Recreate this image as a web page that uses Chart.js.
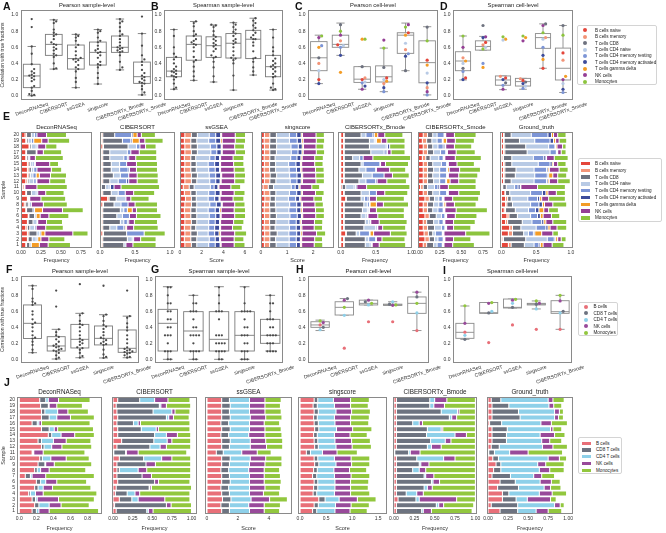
<!DOCTYPE html>
<html><head><meta charset="utf-8">
<script src="https://cdn.jsdelivr.net/npm/chart.js@4.4.0/dist/chart.umd.min.js"></script>
<style>
body{margin:0;width:666px;height:533px;position:relative;background:#fff;overflow:hidden;font-family:"Liberation Sans",Arial,sans-serif}
.c{position:absolute}
.lab{position:absolute;font-weight:bold;font-size:10.5px;color:#111;line-height:10px}
.leg{position:absolute;border:1px solid #d4d4d4;border-radius:2px;background:#fff;box-sizing:border-box}
.leg .t{position:absolute;font-size:4.6px;line-height:5px;white-space:nowrap;color:#222}
.leg .m{position:absolute}
</style></head><body>
<script>
// ---------------- DATA ----------------
const methods6 = ['DeconRNASeq','CIBERSORT','ssGSEA','singscore','CIBERSORTx_Bmode','CIBERSORTx_Smode'];
const methods5 = ['DeconRNASeq','CIBERSORT','ssGSEA','singscore','CIBERSORTx_Bmode'];
const methodsE = ['DeconRNASeq','CIBERSORT','ssGSEA','singscore','CIBERSORTx_Bmode','CIBERSORTx_Smode','Ground_truth'];
const methodsJ = ['DeconRNASeq','CIBERSORT','ssGSEA','singscore','CIBERSORTx_Bmode','Ground_truth'];
const types9 = ['B cells naive','B cells memory','T cells CD8','T cells CD4 naive','T cells CD4 memory resting','T cells CD4 memory activated','T cells gamma delta','NK cells','Monocytes'];
const colors9 = ['#e4463b','#f29478','#6e727f','#b8cae5','#7d95d6','#3d4c9c','#f39c26','#953f95','#8cc43e'];
const types5 = ['B cells','CD8 T cells','CD4 T cells','NK cells','Monocytes'];
const colors5 = ['#e86f78','#6d7380','#8ed0e9','#984a9a','#92c73e'];
const corrTicks = [0,0.2,0.4,0.6,0.8,1.0];

// A: Pearson sample-level (9 cell types)
const A_pts = [
 [0.95,0.85,0.61,0.52,0.39,0.33,0.30,0.28,0.26,0.25,0.24,0.22,0.20,0.18,0.12,0.10,0.06,0.02,0.01,0.0],
 [0.94,0.92,0.90,0.82,0.78,0.76,0.74,0.70,0.66,0.64,0.63,0.60,0.58,0.56,0.52,0.50,0.48,0.40,0.34,0.33],
 [0.76,0.74,0.72,0.68,0.63,0.60,0.55,0.50,0.47,0.46,0.45,0.44,0.42,0.38,0.35,0.33,0.30,0.22,0.17,0.10],
 [0.82,0.80,0.78,0.72,0.68,0.66,0.62,0.58,0.56,0.54,0.53,0.50,0.47,0.42,0.39,0.38,0.35,0.28,0.22,0.145],
 [0.95,0.92,0.90,0.85,0.80,0.76,0.74,0.70,0.66,0.62,0.60,0.59,0.58,0.56,0.55,0.54,0.50,0.42,0.35,0.32],
 [0.98,0.77,0.62,0.50,0.45,0.42,0.38,0.32,0.28,0.25,0.23,0.21,0.19,0.17,0.16,0.15,0.12,0.08,0.04,0.01]];
const A_q1 = [0.10,0.50,0.33,0.38,0.537,0.153];
const A_med = [0.245,0.636,0.46,0.537,0.60,0.236];
const A_q3 = [0.39,0.76,0.628,0.665,0.74,0.417];
const A_lo = [0.0,0.33,0.10,0.145,0.32,0.01];
const A_hi = [0.61,0.94,0.76,0.82,0.95,0.77];

// B: Spearman sample-level
const B_pts = [
 [0.82,0.74,0.60,0.52,0.48,0.45,0.40,0.36,0.33,0.31,0.30,0.29,0.27,0.25,0.24,0.23,0.20,0.15,0.10,0.08],
 [0.92,0.90,0.86,0.80,0.76,0.74,0.70,0.68,0.66,0.64,0.63,0.60,0.55,0.48,0.44,0.42,0.36,0.30,0.24,0.19],
 [0.88,0.87,0.85,0.80,0.75,0.73,0.70,0.68,0.65,0.63,0.61,0.58,0.55,0.50,0.48,0.47,0.42,0.35,0.24,0.17],
 [0.905,0.88,0.85,0.82,0.79,0.77,0.74,0.70,0.68,0.66,0.64,0.60,0.55,0.50,0.47,0.46,0.44,0.40,0.25,0.07],
 [0.96,0.93,0.90,0.87,0.84,0.81,0.78,0.75,0.72,0.70,0.70,0.66,0.62,0.55,0.47,0.46,0.42,0.35,0.30,0.256],
 [0.82,0.72,0.60,0.55,0.50,0.46,0.43,0.40,0.38,0.36,0.35,0.33,0.30,0.27,0.24,0.23,0.15,0.10,0.08,0.07]];
const B_q1 = [0.235,0.44,0.475,0.467,0.46,0.235];
const B_med = [0.305,0.636,0.62,0.65,0.70,0.36];
const B_q3 = [0.475,0.74,0.73,0.77,0.81,0.50];
const B_lo = [0.08,0.19,0.17,0.07,0.256,0.07];
const B_hi = [0.82,0.92,0.876,0.905,0.96,0.82];

// C: Pearson cell-level, one value per cell type (order of types9)
const C_pts = [
 [0.20,0.40,0.47,0.31,0.62,0.15,0.60,0.72,0.74],
 [0.63,0.68,0.88,0.62,0.60,0.50,0.29,0.75,0.80],
 [0.20,0.22,0.36,0.17,0.16,0.12,0.70,0.08,0.70],
 [0.22,0.15,0.35,0.20,0.05,0.10,0.18,0.69,0.59],
 [0.78,0.57,0.31,0.65,0.52,0.49,0.75,0.88,0.85],
 [0.44,0.10,0.85,0.28,0.01,0.16,0.38,0.05,0.68]];
const C_q1 = [0.31,0.60,0.165,0.17,0.525,0.16];
const C_med = [0.47,0.636,0.205,0.235,0.75,0.41];
const C_q3 = [0.67,0.75,0.36,0.37,0.78,0.68];
const C_lo = [0.15,0.50,0.08,0.05,0.31,0.01];
const C_hi = [0.75,0.90,0.36,0.59,0.90,0.855];

// D: Spearman cell-level
const D_pts = [
 [0.22,0.47,0.34,0.40,0.30,0.20,0.43,0.60,0.74],
 [0.66,0.63,0.87,0.60,0.40,0.72,0.35,0.73,0.58],
 [0.22,0.24,0.16,0.69,0.13,0.20,0.70,0.08,0.73],
 [0.19,0.21,0.17,0.12,0.09,0.15,0.72,0.68,0.74],
 [0.34,0.72,0.89,0.70,0.60,0.50,0.45,0.87,0.78],
 [0.53,0.44,0.87,0.15,0.04,0.08,0.24,0.20,0.75]];
const D_q1 = [0.31,0.565,0.13,0.12,0.587,0.195];
const D_med = [0.43,0.61,0.195,0.175,0.72,0.34];
const D_q3 = [0.545,0.68,0.245,0.215,0.77,0.59];
const D_lo = [0.195,0.565,0.075,0.08,0.34,0.04];
const D_hi = [0.74,0.735,0.245,0.215,0.89,0.87];

// F: Pearson sample-level (5 cell types)
const F_pts = [
 [0.92,0.88,0.76,0.72,0.70,0.68,0.60,0.56,0.50,0.46,0.44,0.40,0.35,0.30,0.27,0.26,0.22,0.18,0.12,0.083],
 [0.86,0.66,0.375,0.34,0.30,0.28,0.25,0.22,0.19,0.17,0.16,0.15,0.13,0.12,0.11,0.10,0.08,0.05,0.02,0.004],
 [0.94,0.575,0.55,0.48,0.44,0.43,0.40,0.35,0.30,0.26,0.24,0.22,0.20,0.18,0.15,0.14,0.12,0.08,0.04,0.02],
 [0.92,0.56,0.54,0.48,0.43,0.41,0.38,0.34,0.30,0.27,0.26,0.24,0.22,0.20,0.19,0.18,0.12,0.06,0.03,0.017],
 [0.86,0.54,0.52,0.45,0.40,0.36,0.30,0.25,0.20,0.15,0.13,0.12,0.11,0.10,0.09,0.08,0.07,0.05,0.03,0.02]];
const F_q1 = [0.26,0.104,0.142,0.18,0.0875];
const F_med = [0.45,0.167,0.25,0.262,0.1375];
const F_q3 = [0.68,0.283,0.437,0.417,0.367];
const F_lo = [0.083,0.004,0.02,0.017,0.02];
const F_hi = [0.92,0.375,0.575,0.558,0.54];

// G: Spearman sample-level (5 cell types)
const G_pts = [
 [0.9,0.9,0.8,0.7,0.7,0.6,0.6,0.5,0.5,0.4,0.4,0.3,0.3,0.3,0.2,0.1,0.1,0.1,0.0,0.0],
 [0.8,0.7,0.7,0.6,0.6,0.6,0.5,0.4,0.4,0.3,0.3,0.3,0.3,0.2,0.1,0.1,0.1,0.1,0.0,0.0],
 [0.9,0.8,0.7,0.6,0.6,0.6,0.5,0.3,0.3,0.3,0.2,0.2,0.2,0.2,0.1,0.1,0.1,0.1,0.0,0.0],
 [0.9,0.7,0.6,0.6,0.6,0.6,0.5,0.4,0.4,0.3,0.3,0.3,0.2,0.2,0.1,0.1,0.1,0.0,0.0,0.0],
 [0.8,0.7,0.7,0.6,0.5,0.5,0.5,0.4,0.4,0.3,0.3,0.3,0.3,0.2,0.2,0.2,0.1,0.1,0.1,0.1]];
const G_q1 = [0.104,0.104,0.104,0.104,0.2];
const G_med = [0.45,0.354,0.25,0.30,0.30];
const G_q3 = [0.625,0.596,0.596,0.596,0.50];
const G_lo = [0.0,0.0,0.0,0.0,0.104];
const G_hi = [0.908,0.80,0.908,0.908,0.80];

// H: Pearson cell-level (order of types5)
const H_pts = [
 [0.43,0.40,0.37,0.46,0.48],
 [0.14,0.76,0.55,0.74,0.65],
 [0.47,0.72,0.68,0.74,0.70],
 [0.47,0.69,0.72,0.675,0.68],
 [0.36,0.78,0.58,0.84,0.70]];
const H_q1 = [0.40,0.554,0.68,0.675,0.575];
const H_med = [0.43,0.65,0.70,0.68,0.70];
const H_q3 = [0.47,0.72,0.74,0.69,0.78];
const H_lo = [0.36,0.554,0.68,0.675,0.36];
const H_hi = [0.49,0.76,0.74,0.72,0.84];

// I: Spearman cell-level
const I_pts = [
 [0.34,0.25,0.30,0.45,0.67],
 [0.21,0.58,0.60,0.70,0.71],
 [0.43,0.65,0.70,0.74,0.75],
 [0.375,0.69,0.63,0.70,0.73],
 [0.375,0.60,0.58,0.73,0.80]];
const I_q1 = [0.2625,0.575,0.642,0.68,0.575];
const I_med = [0.3375,0.583,0.65,0.69,0.596];
const I_q3 = [0.45,0.71,0.754,0.70,0.733];
const I_lo = [0.25,0.575,0.642,0.63,0.375];
const I_hi = [0.667,0.71,0.754,0.73,0.80];

// E: estimated fractions per sample (rows = sample 1..20, columns = types9)
const E_decon = [
 [0.06,0.01,0.04,0.02,0,0,0.10,0.11,0.28],[0.08,0.01,0.05,0.05,0.02,0,0.04,0.10,0.20],
 [0.08,0.02,0.10,0.03,0.02,0,0.05,0.35,0.19],[0.06,0.02,0.03,0.06,0.02,0,0,0.12,0.22],
 [0.08,0.01,0.06,0.05,0,0,0.01,0.11,0.20],[0.09,0.01,0.07,0.02,0,0,0.05,0.11,0.25],
 [0.06,0.01,0.08,0,0.02,0,0.10,0.25,0.26],[0.04,0.02,0.03,0.02,0.02,0,0,0.15,0.30],
 [0.08,0.01,0.01,0.01,0,0,0,0.14,0.31],[0.06,0.01,0.06,0.06,0.02,0,0,0.10,0.23],
 [0.02,0.02,0.01,0,0,0,0,0.15,0.38],[0.06,0.02,0.02,0.06,0.03,0,0.01,0.16,0.20],
 [0.08,0.02,0.02,0.03,0.04,0,0.04,0.14,0.20],[0.08,0.02,0.03,0.03,0.04,0,0,0.18,0.13],
 [0.08,0.02,0.02,0.03,0.02,0,0.01,0.18,0.11],[0.06,0.01,0.02,0.02,0,0,0,0.07,0.35],
 [0.06,0.01,0.12,0.01,0,0,0,0.08,0.23],[0.10,0.01,0.02,0.06,0.02,0,0,0.10,0.14],
 [0.06,0.01,0.02,0.04,0.03,0,0.10,0.08,0.27],[0.05,0.02,0.06,0.04,0.03,0,0,0.12,0.25]];
const E_cibersort = [
 [0.02,0.02,0.30,0.03,0,0,0,0.10,0.33],[0.02,0.02,0.35,0.07,0.02,0,0,0.10,0.22],
 [0.03,0.02,0.33,0,0.25,0,0,0,0.30],[0.02,0.02,0.10,0.10,0.10,0.02,0.02,0.10,0.35],
 [0.02,0.02,0.25,0.05,0.05,0.02,0,0.08,0.33],[0.02,0.02,0.20,0.08,0.10,0,0,0.10,0.35],
 [0.02,0.02,0.25,0.05,0.05,0,0.07,0.06,0.30],[0.03,0.02,0.15,0.10,0.10,0,0,0.10,0.32],
 [0.11,0.02,0.10,0.14,0,0,0,0.07,0.26],[0.02,0.02,0.12,0.10,0.10,0,0,0.12,0.30],
 [0.02,0,0.06,0.05,0.02,0.05,0,0.10,0.55],[0.02,0.02,0.10,0.12,0.12,0.03,0,0.12,0.30],
 [0.02,0.02,0.15,0.10,0.12,0,0,0.12,0.30],[0.02,0.02,0.12,0.12,0.12,0.02,0,0.10,0.30],
 [0.02,0.02,0.12,0.12,0.10,0,0,0.14,0.30],[0.02,0.02,0.10,0.20,0.05,0.02,0,0.10,0.30],
 [0.02,0.02,0.10,0.25,0.05,0,0,0.12,0.25],[0.03,0.02,0.35,0.12,0.05,0,0,0.08,0.15],
 [0.02,0.02,0.28,0,0.12,0.02,0.10,0.08,0.26],[0.02,0.02,0.17,0,0.24,0.02,0.06,0.06,0.20]];
const E_ssgsea = [
 [0.45,0.6,0.5,1.1,0.6,0.45,0.1,1.2,1.0],[0.4,0.6,0.55,1.15,0.55,0.4,0.1,1.25,0.9],
 [0.45,0.55,0.6,1.0,0.6,0.4,0.15,1.3,1.1],[0.4,0.6,0.45,1.2,0.55,0.45,0.1,1.1,0.9],
 [0.45,0.6,0.5,1.1,0.6,0.4,0.1,1.2,0.95],[0.45,0.55,0.55,1.15,0.6,0.4,0.1,1.25,1.0],
 [0.4,0.6,0.5,1.1,0.65,0.4,0.15,1.2,1.05],[0.45,0.6,0.5,1.2,0.6,0.45,0.1,1.15,0.95],
 [0.5,0.55,0.45,1.1,0.6,0.4,0.1,1.2,1.0],[0.4,0.6,0.5,1.15,0.6,0.45,0.1,1.2,1.0],
 [0.3,0.55,0.45,1.5,0.35,0.35,0.1,1.1,0.9],[0.45,0.6,0.5,1.2,0.55,0.4,0.1,1.25,0.95],
 [0.45,0.6,0.55,1.1,0.6,0.45,0.1,1.2,1.0],[0.4,0.6,0.5,1.15,0.6,0.4,0.1,1.25,1.0],
 [0.45,0.55,0.5,1.1,0.6,0.45,0.1,1.2,0.95],[0.4,0.6,0.45,1.3,0.5,0.4,0.1,1.15,1.0],
 [0.45,0.6,0.55,1.25,0.55,0.4,0.1,1.2,0.95],[0.45,0.55,0.6,1.2,0.6,0.4,0.1,1.15,0.9],
 [0.4,0.6,0.55,1.1,0.65,0.45,0.15,1.2,0.95],[0.45,0.6,0.55,1.1,0.6,0.45,0.1,1.25,0.95]];
const E_singscore = [
 [0.13,0.2,0.25,0.5,0.28,0.15,0.05,0.48,0.33],[0.12,0.22,0.22,0.52,0.27,0.16,0.05,0.5,0.3],
 [0.14,0.2,0.28,0.45,0.3,0.15,0.06,0.55,0.35],[0.12,0.22,0.2,0.55,0.26,0.17,0.05,0.47,0.32],
 [0.13,0.2,0.24,0.5,0.28,0.15,0.05,0.5,0.32],[0.13,0.21,0.25,0.52,0.28,0.16,0.05,0.5,0.33],
 [0.12,0.22,0.23,0.5,0.3,0.16,0.06,0.5,0.34],[0.13,0.2,0.22,0.55,0.27,0.17,0.05,0.48,0.32],
 [0.15,0.2,0.2,0.5,0.28,0.15,0.05,0.5,0.33],[0.12,0.22,0.23,0.52,0.28,0.17,0.05,0.5,0.33],
 [0.08,0.2,0.2,0.68,0.15,0.14,0.05,0.45,0.3],[0.13,0.21,0.23,0.55,0.26,0.16,0.05,0.52,0.32],
 [0.13,0.22,0.25,0.5,0.28,0.17,0.05,0.5,0.33],[0.12,0.21,0.23,0.52,0.28,0.16,0.05,0.52,0.33],
 [0.13,0.2,0.23,0.5,0.28,0.17,0.05,0.5,0.32],[0.12,0.22,0.2,0.6,0.24,0.15,0.05,0.48,0.33],
 [0.13,0.21,0.25,0.57,0.26,0.15,0.05,0.5,0.32],[0.13,0.2,0.27,0.55,0.28,0.15,0.05,0.48,0.3],
 [0.12,0.22,0.25,0.5,0.3,0.17,0.06,0.5,0.32],[0.13,0.21,0.25,0.5,0.28,0.17,0.05,0.52,0.32]];
const E_bmode = [
 [0.04,0.01,0.30,0.07,0.02,0.01,0,0.10,0.38],[0.04,0.01,0.30,0.05,0.10,0.01,0,0.08,0.33],
 [0.07,0.01,0.14,0.05,0.14,0.01,0.05,0.24,0.24],[0.04,0.01,0.28,0.17,0.02,0.01,0,0.07,0.33],
 [0.04,0.01,0.30,0.05,0.02,0.01,0,0.12,0.40],[0.04,0.01,0.24,0.07,0.02,0.01,0,0.14,0.38],
 [0.04,0.01,0.26,0.07,0.02,0.01,0,0.10,0.40],[0.04,0.01,0.28,0.05,0.03,0.01,0.09,0.10,0.36],
 [0.07,0.01,0.21,0.05,0.05,0.02,0,0.10,0.40],[0.04,0.01,0.24,0.12,0.10,0,0,0.12,0.33],
 [0.02,0,0.05,0.12,0.02,0.02,0,0.14,0.62],[0.04,0.01,0.21,0.10,0.14,0.02,0,0.14,0.28],
 [0.04,0.01,0.26,0.14,0.17,0,0,0.12,0.24],[0.04,0.01,0.21,0.10,0.14,0.01,0,0.19,0.23],
 [0.04,0.01,0.24,0.03,0.24,0.01,0,0.07,0.33],[0.04,0.01,0.12,0.10,0.05,0,0,0.14,0.54],
 [0.04,0.01,0.38,0.19,0.03,0.02,0,0.05,0.20],[0.04,0.01,0.36,0.24,0.02,0.03,0,0,0.22],
 [0.04,0.01,0.36,0.07,0.02,0.01,0.07,0.08,0.26],[0.04,0.01,0.24,0.07,0.10,0.02,0.05,0.10,0.26]];
const E_smode = [
 [0.06,0.04,0.08,0.04,0.06,0.01,0.01,0.10,0.25],[0.08,0.05,0.06,0.04,0.06,0.01,0.01,0.10,0.20],
 [0.07,0.05,0.05,0.03,0.08,0.01,0.01,0.25,0.28],[0.06,0.05,0.08,0.08,0.04,0.01,0.01,0.08,0.20],
 [0.06,0.04,0.08,0.06,0.05,0.01,0.01,0.10,0.25],[0.08,0.05,0.08,0.06,0.04,0.01,0.01,0.10,0.25],
 [0.06,0.05,0.06,0.06,0.06,0.01,0.01,0.13,0.36],[0.06,0.05,0.07,0.06,0.05,0.01,0.02,0.10,0.25],
 [0.08,0.05,0.06,0.05,0.04,0.01,0.01,0.10,0.30],[0.06,0.05,0.06,0.08,0.08,0.01,0.01,0.12,0.25],
 [0.03,0.03,0.05,0.08,0.04,0.02,0,0.10,0.32],[0.06,0.05,0.07,0.07,0.07,0.01,0.04,0.10,0.20],
 [0.06,0.05,0.06,0.08,0.08,0.01,0.01,0.12,0.22],[0.06,0.05,0.07,0.07,0.08,0.01,0.02,0.12,0.24],
 [0.06,0.05,0.06,0.10,0.06,0.01,0.01,0.10,0.20],[0.05,0.04,0.05,0.10,0.05,0.01,0.01,0.12,0.30],
 [0.06,0.05,0.07,0.08,0.06,0.01,0.01,0.10,0.22],[0.06,0.05,0.06,0.06,0.06,0.02,0.01,0.10,0.20],
 [0.05,0.05,0.06,0.06,0.06,0.01,0.04,0.10,0.22],[0.06,0.05,0.06,0.05,0.08,0.01,0.01,0.10,0.25]];
const E_truth = [
 [0.10,0.04,0.19,0.14,0.07,0.02,0.04,0.13,0.17],[0.02,0.01,0.32,0.31,0.10,0.02,0.03,0.05,0.07],
 [0.10,0.06,0.16,0.07,0.07,0.02,0.10,0.16,0.08],[0.12,0.04,0.12,0.22,0.14,0.03,0.03,0.10,0.14],
 [0.06,0.03,0.21,0.14,0.14,0.03,0.03,0.10,0.20],[0.08,0.03,0.12,0.19,0.10,0.04,0.04,0.12,0.12],
 [0.04,0.02,0.14,0.19,0.10,0.05,0.07,0.07,0.14],[0.06,0.02,0.08,0.26,0.12,0.05,0.03,0.12,0.20],
 [0.06,0.03,0.05,0.24,0.14,0.03,0.03,0.10,0.24],[0.05,0.01,0.06,0.30,0.17,0.05,0.03,0.12,0.13],
 [0.01,0.01,0.05,0.12,0.05,0.03,0.01,0.24,0.40],[0.03,0.01,0.10,0.33,0.18,0.02,0.02,0.12,0.18],
 [0.03,0.02,0.15,0.28,0.18,0.02,0.06,0.07,0.13],[0.03,0.02,0.16,0.26,0.18,0.02,0.02,0.14,0.13],
 [0.03,0.02,0.10,0.38,0.17,0.03,0.02,0.06,0.12],[0.02,0.01,0.12,0.31,0.15,0.03,0.01,0.11,0.20],
 [0.03,0.02,0.32,0.33,0.09,0.01,0.01,0.05,0.07],[0.03,0.02,0.30,0.33,0.09,0.01,0.02,0.08,0.05],
 [0.03,0.01,0.22,0.22,0.22,0.05,0.03,0.05,0.11],[0.03,0.01,0.10,0.29,0.24,0.05,0.03,0.06,0.12]];

// J: estimated fractions per sample (rows = sample 1..20, columns = types5)
const J_decon = [
 [0.15,0.05,0.03,0.12,0.58],[0.18,0.05,0.12,0.14,0.33],[0.15,0.04,0.02,0.25,0.42],[0.11,0.02,0.06,0.09,0.63],
 [0.18,0.04,0.06,0.11,0.45],[0.20,0.05,0.06,0.13,0.35],[0.07,0.06,0.02,0.16,0.57],[0.18,0.03,0.04,0.10,0.43],
 [0.22,0.08,0.01,0.10,0.44],[0.24,0.03,0.10,0.18,0.27],[0.15,0.01,0.01,0.11,0.49],[0.26,0.03,0.09,0.12,0.35],
 [0.22,0.04,0.14,0.15,0.29],[0.34,0.04,0.11,0.16,0.23],[0.26,0.09,0.06,0.04,0.42],[0.15,0.06,0.02,0.03,0.57],
 [0.26,0.09,0.09,0.16,0.28],[0.26,0.04,0.15,0.12,0.24],[0.25,0.09,0.01,0.09,0.30],[0.24,0.07,0.03,0.12,0.37]];
const J_cibersort = [
 [0.04,0.39,0.02,0.06,0.49],[0.02,0.66,0,0.06,0.26],[0.08,0.16,0.08,0.34,0.32],[0.03,0.15,0.10,0.06,0.64],
 [0.04,0.42,0.01,0.02,0.51],[0.06,0.47,0,0.05,0.40],[0.05,0.32,0,0.12,0.50],[0.05,0.03,0.24,0.11,0.56],
 [0.05,0.37,0,0.12,0.45],[0.08,0.31,0.23,0.13,0.24],[0.01,0.15,0.01,0.15,0.62],[0.05,0.42,0.13,0.08,0.31],
 [0.11,0.41,0.17,0.06,0.24],[0.06,0.47,0.15,0.14,0.17],[0.06,0.30,0.19,0.03,0.40],[0.05,0.21,0.06,0.03,0.63],
 [0.06,0.62,0.03,0.06,0.20],[0.05,0.46,0.24,0.04,0.19],[0.04,0.55,0.02,0.07,0.31],[0.06,0.28,0.19,0.17,0.28]];
const J_ssgsea = [
 [0.95,0.5,1.3,0.95,1.0],[0.9,0.55,1.25,1.0,1.05],[1.0,0.55,1.3,1.2,1.15],[0.95,0.5,1.3,0.9,1.05],
 [0.9,0.5,1.35,1.0,1.0],[0.95,0.55,1.25,0.95,1.1],[0.95,0.5,1.3,0.95,1.05],[0.9,0.5,1.3,1.0,1.0],
 [0.95,0.5,1.3,1.0,1.1],[0.95,0.55,1.3,1.0,1.05],[0.6,0.45,1.2,1.0,0.9],[0.95,0.5,1.35,1.05,1.05],
 [0.95,0.55,1.3,1.0,1.1],[0.9,0.5,1.3,1.05,1.1],[0.95,0.55,1.25,1.0,1.05],[0.9,0.5,1.35,0.95,1.0],
 [0.95,0.55,1.3,1.0,1.05],[0.95,0.5,1.3,1.0,1.05],[0.95,0.55,1.25,1.0,1.0],[0.95,0.5,1.3,1.0,1.05]];
const J_singscore = [
 [0.24,0.08,0.35,0.29,0.33],[0.27,0.08,0.33,0.3,0.35],[0.36,0.12,0.27,0.35,0.36],[0.25,0.07,0.34,0.31,0.37],
 [0.26,0.08,0.33,0.3,0.34],[0.27,0.07,0.33,0.3,0.35],[0.24,0.08,0.34,0.32,0.36],[0.26,0.07,0.32,0.3,0.33],
 [0.28,0.08,0.33,0.3,0.35],[0.27,0.07,0.32,0.32,0.36],[0.12,0.08,0.23,0.28,0.39],[0.28,0.07,0.34,0.31,0.37],
 [0.27,0.07,0.33,0.32,0.36],[0.26,0.07,0.33,0.3,0.33],[0.28,0.08,0.34,0.31,0.37],[0.27,0.08,0.32,0.3,0.35],
 [0.26,0.07,0.33,0.31,0.36],[0.27,0.08,0.34,0.3,0.36],[0.25,0.08,0.33,0.31,0.34],[0.27,0.07,0.3,0.33,0.36]];
const J_bmode = [
 [0.03,0.31,0.02,0.10,0.50],[0.03,0.49,0.03,0.06,0.37],[0.05,0.22,0.04,0.46,0.23],[0.03,0.12,0.13,0.08,0.64],
 [0.03,0.34,0.04,0.06,0.53],[0.03,0.43,0.02,0.08,0.44],[0.03,0.34,0.02,0.10,0.51],[0.03,0.20,0.08,0.08,0.61],
 [0.03,0.28,0.02,0.10,0.57],[0.03,0.25,0.33,0.14,0.25],[0.01,0.17,0.02,0.12,0.68],[0.03,0.38,0.05,0.12,0.42],
 [0.03,0.42,0.18,0.07,0.30],[0.03,0.37,0.35,0.14,0.11],[0.03,0.38,0.17,0.02,0.40],[0.03,0.20,0.08,0.04,0.65],
 [0.03,0.65,0.03,0.06,0.23],[0.03,0.55,0.20,0.02,0.20],[0.03,0.41,0.05,0.13,0.38],[0.03,0.41,0.06,0.15,0.35]];
const J_truth = [
 [0.15,0.22,0.23,0.15,0.17],[0.04,0.33,0.46,0.07,0.05],[0.18,0.17,0.14,0.29,0.07],[0.18,0.08,0.38,0.16,0.18],
 [0.12,0.26,0.32,0.08,0.13],[0.15,0.19,0.31,0.14,0.11],[0.05,0.23,0.29,0.10,0.16],[0.07,0.09,0.48,0.13,0.18],
 [0.10,0.06,0.46,0.10,0.23],[0.06,0.07,0.62,0.14,0.09],[0.01,0.07,0.19,0.23,0.43],[0.04,0.10,0.54,0.13,0.18],
 [0.05,0.18,0.44,0.10,0.15],[0.05,0.18,0.42,0.18,0.13],[0.05,0.19,0.54,0.03,0.11],[0.02,0.15,0.49,0.13,0.20],
 [0.05,0.35,0.43,0.05,0.06],[0.05,0.33,0.45,0.06,0.05],[0.05,0.21,0.50,0.06,0.10],[0.04,0.12,0.59,0.06,0.14]];

// ---------------- RENDERING ----------------
const FONT = '"Liberation Sans", Arial, sans-serif';
Chart.defaults.font.family = FONT;
Chart.defaults.color = '#333';
Chart.defaults.animation = false;

function place(box, pad) {
  const w = Math.round(box[2] - box[0] + pad.l + pad.r), h = Math.round(box[3] - box[1] + pad.t + pad.b);
  const d = document.createElement('div'); d.className = 'c';
  d.style.left = (box[0] - pad.l) + 'px'; d.style.top = (box[1] - pad.t) + 'px';
  d.style.width = w + 'px'; d.style.height = h + 'px';
  const cv = document.createElement('canvas'); cv.width = w; cv.height = h;
  cv.style.width = w + 'px'; cv.style.height = h + 'px';
  d.appendChild(cv); document.body.appendChild(d);
  return cv;
}
const framePlugin = { id: 'frame', afterDatasetsDraw(chart) {
  const a = chart.chartArea, c = chart.ctx; c.save(); c.strokeStyle = '#8a8a8a'; c.lineWidth = 1;
  c.strokeRect(Math.round(a.left) + 0.5, Math.round(a.top) + 0.5, Math.round(a.right - a.left) - 1, Math.round(a.bottom - a.top) - 1); c.restore(); } };
function titlePlugin(text, size, dy) { return { id: 'ptitle', afterDraw(chart) {
  const c = chart.ctx, a = chart.chartArea; c.save(); c.font = size + 'px ' + FONT; c.fillStyle = '#222';
  c.textAlign = 'center'; c.textBaseline = 'middle'; c.fillText(text, (a.left + a.right) / 2, a.top - dy); c.restore(); } }; }
function xlabPlugin(labels, angle, size) { return { id: 'xlab', afterDraw(chart) {
  const c = chart.ctx, xs = chart.scales.x, a = chart.chartArea, th = angle * Math.PI / 180;
  c.save(); c.font = size + 'px ' + FONT; c.fillStyle = '#333'; c.textAlign = 'center'; c.textBaseline = 'middle';
  labels.forEach((t, i) => { const w = c.measureText(t).width; const H = w * Math.sin(th) + size * Math.cos(th);
    c.save(); c.translate(xs.getPixelForValue(i), a.bottom + 1.5 + H / 2); c.rotate(-th); c.fillText(t, 0, 0); c.restore(); });
  c.restore(); } }; }
function boxPlugin(q1, med, q3, lo, hi, half, color) { return { id: 'boxes', beforeDatasetsDraw(chart) {
  const xs = chart.scales.x, ys = chart.scales.y, c = chart.ctx; c.save(); c.strokeStyle = color; c.lineWidth = 0.9;
  const ln = (x1, y1, x2, y2) => { c.beginPath(); c.moveTo(x1, y1); c.lineTo(x2, y2); c.stroke(); };
  q1.forEach((v, i) => {
    const cx = xs.getPixelForValue(i), hw = xs.getPixelForValue(i + half) - cx;
    const y1 = ys.getPixelForValue(v), y3 = ys.getPixelForValue(q3[i]), ym = ys.getPixelForValue(med[i]);
    const yl = ys.getPixelForValue(lo[i]), yh = ys.getPixelForValue(hi[i]);
    ln(cx, y1, cx, yl); ln(cx, y3, cx, yh); ln(cx - hw / 2, yl, cx + hw / 2, yl); ln(cx - hw / 2, yh, cx + hw / 2, yh);
    c.fillStyle = '#fff'; c.fillRect(cx - hw, y3, 2 * hw, y1 - y3); c.strokeRect(cx - hw, y3, 2 * hw, y1 - y3);
    ln(cx - hw, ym, cx + hw, ym);
  }); c.restore(); } }; }
// beeswarm-like horizontal offsets for points of one category
function swarmOffsets(vals, dyTol, dx) {
  const order = vals.map((v, k) => k).sort((a, b) => vals[a] - vals[b]);
  const placed = [], out = new Array(vals.length);
  order.forEach(k => { const v = vals[k]; let off = 0;
    for (let s = 0; s < 30; s++) { const cand = s === 0 ? 0 : (s % 2 ? 1 : -1) * Math.ceil(s / 2) * dx;
      if (!placed.some(p => Math.abs(p.v - v) < dyTol && Math.abs(p.o - cand) < dx * 0.9)) { off = cand; break; } }
    placed.push({ v, o: off }); out[k] = off; });
  return out;
}
function boxChart(box, pad, o) {
  const cv = place(box, pad), n = o.labels.length;
  let datasets;
  if (o.colors) {
    const offs = o.pts.map(p => swarmOffsets(p, 0.04, 0.13));
    datasets = o.colors.map((col, j) => ({ data: o.pts.map((p, i) => ({ x: i + offs[i][j], y: p[j] })),
      backgroundColor: col, borderWidth: 0, pointRadius: 1.6 }));
  } else {
    datasets = [{ data: o.pts.flatMap((p, i) => { const off = swarmOffsets(p, 0.035, 0.11); return p.map((v, k) => ({ x: i + off[k], y: v })); }),
      backgroundColor: '#4a4a4a', borderWidth: 0, pointRadius: 1.15 }];
  }
  new Chart(cv, { type: 'scatter', data: { datasets },
    options: { responsive: false, animation: false, devicePixelRatio: 1,
      layout: { padding: { top: pad.t, right: pad.r, left: 0, bottom: 0 } },
      plugins: { legend: { display: false }, tooltip: { enabled: false } },
      scales: {
        x: { type: 'linear', min: -0.5, max: n - 0.5, ticks: { display: false }, grid: { display: false, drawTicks: false }, border: { display: false }, afterFit(s) { s.height = pad.b; } },
        y: { type: 'linear', min: o.ymin, max: o.ymax, afterBuildTicks(s) { s.ticks = corrTicks.map(v => ({ value: v })); },
          ticks: { font: { size: 5 }, color: '#333', padding: 2.5, callback: v => v.toFixed(1) },
          grid: { display: false, drawTicks: false }, border: { display: false },
          title: { display: !!o.ylabel, text: o.ylabel || '', font: { size: 5 }, color: '#333', padding: { top: 0, bottom: 1 } },
          afterFit(s) { s.width = pad.l; } } } },
    plugins: [boxPlugin(o.q1, o.med, o.q3, o.lo, o.hi, 0.38, o.colors ? '#8a8a8a' : '#7a7a7a'), framePlugin, titlePlugin(o.title, 5.8, 4.5), xlabPlugin(o.labels, 18, 5)] });
}
function stackChart(box, pad, o) {
  const cv = place(box, pad);
  new Chart(cv, { type: 'bar',
    data: { labels: o.m.map((_, i) => String(i + 1)),
      datasets: o.types.map((t, j) => ({ label: t, data: o.m.map(r => r[j]), backgroundColor: o.colors[j], borderColor: '#fff', borderWidth: 0.5, borderSkipped: false, barPercentage: 0.86, categoryPercentage: 1 })) },
    options: { indexAxis: 'y', responsive: false, animation: false, devicePixelRatio: 1,
      layout: { padding: { top: pad.t, right: pad.r, left: 0, bottom: 0 } },
      plugins: { legend: { display: false }, tooltip: { enabled: false } },
      scales: {
        x: { type: 'linear', stacked: true, min: o.xr[0], max: o.xr[1], grid: { display: false, drawTicks: false }, border: { display: false },
          ticks: { stepSize: o.step, includeBounds: false, font: { size: 5 }, color: '#333', padding: 2, maxRotation: 0, autoSkip: false, callback: v => Math.abs(v) < 1e-9 ? (0).toFixed(o.dec) : v.toFixed(o.dec) },
          title: { display: true, text: o.xlabel, font: { size: 5.5 }, color: '#333', padding: 0 }, afterFit(s) { s.height = pad.b; } },
        y: { type: 'category', stacked: true, reverse: true, grid: { display: false, drawTicks: false }, border: { display: false },
          ticks: { display: !!o.showY, font: { size: 5 }, color: '#333', padding: 2, autoSkip: false },
          title: { display: !!o.showY, text: 'Sample', font: { size: 5.5 }, color: '#333', padding: 0 }, afterFit(s) { s.width = pad.l; } } } },
    plugins: [framePlugin, titlePlugin(o.title, o.tsize, 4.6)] });
}

// ----- Box panels -----
const corrLabel = 'Correlation with true fractions';
boxChart([20.7, 10, 152.7, 100], { l: 20.7, t: 10, r: 26, b: 30 }, { labels: methods6, pts: A_pts, q1: A_q1, med: A_med, q3: A_q3, lo: A_lo, hi: A_hi, ymin: -0.053, ymax: 1.062, title: 'Pearson sample-level', ylabel: corrLabel });
boxChart([164, 10, 283, 100], { l: 12, t: 10, r: 26, b: 30 }, { labels: methods6, pts: B_pts, q1: B_q1, med: B_med, q3: B_q3, lo: B_lo, hi: B_hi, ymin: -0.053, ymax: 1.062, title: 'Spearman sample-level' });
boxChart([308, 10, 438, 100], { l: 12, t: 10, r: 26, b: 30 }, { labels: methods6, pts: C_pts, colors: colors9, q1: C_q1, med: C_med, q3: C_q3, lo: C_lo, hi: C_hi, ymin: -0.053, ymax: 1.062, title: 'Pearson cell-level' });
boxChart([453, 10, 573, 100], { l: 12, t: 10, r: 26, b: 30 }, { labels: methods6, pts: D_pts, colors: colors9, q1: D_q1, med: D_med, q3: D_q3, lo: D_lo, hi: D_hi, ymin: -0.053, ymax: 1.062, title: 'Spearman cell-level' });
boxChart([20.7, 276, 139.3, 363], { l: 20.7, t: 10, r: 26, b: 30 }, { labels: methods5, pts: F_pts, q1: F_q1, med: F_med, q3: F_q3, lo: F_lo, hi: F_hi, ymin: -0.046, ymax: 1.042, title: 'Pearson sample-level', ylabel: corrLabel });
boxChart([155, 276, 283, 363], { l: 12, t: 10, r: 26, b: 30 }, { labels: methods5, pts: G_pts, q1: G_q1, med: G_med, q3: G_q3, lo: G_lo, hi: G_hi, ymin: -0.046, ymax: 1.042, title: 'Spearman sample-level' });
boxChart([308, 276, 429, 363], { l: 12, t: 10, r: 26, b: 30 }, { labels: methods5, pts: H_pts, colors: colors5, q1: H_q1, med: H_med, q3: H_q3, lo: H_lo, hi: H_hi, ymin: -0.046, ymax: 1.042, title: 'Pearson cell-level' });
boxChart([453, 276, 572, 363], { l: 12, t: 10, r: 26, b: 30 }, { labels: methods5, pts: I_pts, colors: colors5, q1: I_q1, med: I_med, q3: I_q3, lo: I_lo, hi: I_hi, ymin: -0.046, ymax: 1.042, title: 'Spearman cell-level' });

// ----- Stacked panels E -----
const eData = [E_decon, E_cibersort, E_ssgsea, E_singscore, E_bmode, E_smode, E_truth];
const eBox = [[21, 132, 92, 248], [100, 132, 175, 248], [180, 132, 253, 248], [261, 132, 334, 248], [338, 132, 412, 248], [418, 132, 493, 248], [500, 132, 573, 248]];
const eRange = [[0, 0.89], [0, 1.07], [0, 6.74], [0, 2.8], [-0.04, 1.02], [0, 0.865], [-0.02, 1.03]];
const eStep = [0.25, 0.5, 2, 1, 0.5, 0.25, 0.5], eDec = [2, 1, 0, 0, 1, 2, 1];
const eXlab = ['Frequency', 'Frequency', 'Score', 'Score', 'Frequency', 'Frequency', 'Frequency'];
methodsE.forEach((m, k) => stackChart(eBox[k], { l: k === 0 ? 21 : 14, t: 12, r: 9, b: 16 },
  { m: eData[k], types: types9, colors: colors9, xr: eRange[k], step: eStep[k], dec: eDec[k], title: m, xlabel: eXlab[k], showY: k === 0, tsize: 6 }));

// ----- Stacked panels J -----
const jData = [J_decon, J_cibersort, J_ssgsea, J_singscore, J_bmode, J_truth];
const jBox = [[17, 397, 102, 514], [112, 397, 197, 514], [205, 397, 292, 514], [298, 397, 387, 514], [393, 397, 477, 514], [487, 397, 573, 514]];
const jRange = [[-0.027, 0.97], [-0.013, 1.07], [-0.13, 5.5], [-0.04, 1.67], [-0.012, 1.02], [-0.0125, 1.06]];
const jStep = [0.2, 0.25, 2, 0.5, 0.25, 0.25], jDec = [1, 2, 0, 1, 2, 2];
const jXlab = ['Frequency', 'Frequency', 'Score', 'Score', 'Frequency', 'Frequency'];
methodsJ.forEach((m, k) => stackChart(jBox[k], { l: k === 0 ? 17 : 12, t: 12, r: 9, b: 18 },
  { m: jData[k], types: types5, colors: colors5, xr: jRange[k], step: jStep[k], dec: jDec[k], title: m, xlabel: jXlab[k], showY: k === 0, tsize: 6.3 }));

// ----- Panel letters -----
[['A', 3, 1], ['B', 151, 1], ['C', 295, 1], ['D', 440, 1], ['E', 3, 111], ['F', 6, 264], ['G', 151, 264], ['H', 296, 264], ['I', 443, 265], ['J', 4, 377]]
  .forEach(([t, x, y]) => { const d = document.createElement('div'); d.className = 'lab'; d.style.left = x + 'px'; d.style.top = y + 'px'; d.textContent = t; document.body.appendChild(d); });

// ----- Legends -----
function legend(x, y, w, h, labels, colors, shape, first, gap, mx, tx) {
  const d = document.createElement('div'); d.className = 'leg';
  d.style.cssText = `left:${x}px;top:${y}px;width:${w}px;height:${h}px`;
  labels.forEach((t, i) => {
    const cy = first - y + i * gap;
    const m = document.createElement('div'); m.className = 'm';
    if (shape === 'circle') m.style.cssText = `left:${mx - x - 2}px;top:${cy - 2}px;width:4px;height:4px;border-radius:50%;background:${colors[i]}`;
    else m.style.cssText = `left:${mx - x}px;top:${cy - 1.7}px;width:9px;height:3.4px;background:${colors[i]}`;
    const s = document.createElement('div'); s.className = 't'; s.style.left = (tx - x) + 'px'; s.style.top = (cy - 2.6) + 'px'; s.textContent = t;
    d.appendChild(m); d.appendChild(s);
  });
  document.body.appendChild(d);
}
legend(577, 25, 80, 60, types9, colors9, 'circle', 29.3, 6.4, 584, 594);
legend(578, 158, 84, 64, types9, colors9, 'rect', 162.5, 6.8, 580, 594);
legend(578, 302, 40, 34, types5, colors5, 'circle', 306, 6.4, 585, 592.5);
legend(578, 437, 44, 37, types5, colors5, 'rect', 442.3, 6.75, 580.5, 595);
</script>
</body></html>
